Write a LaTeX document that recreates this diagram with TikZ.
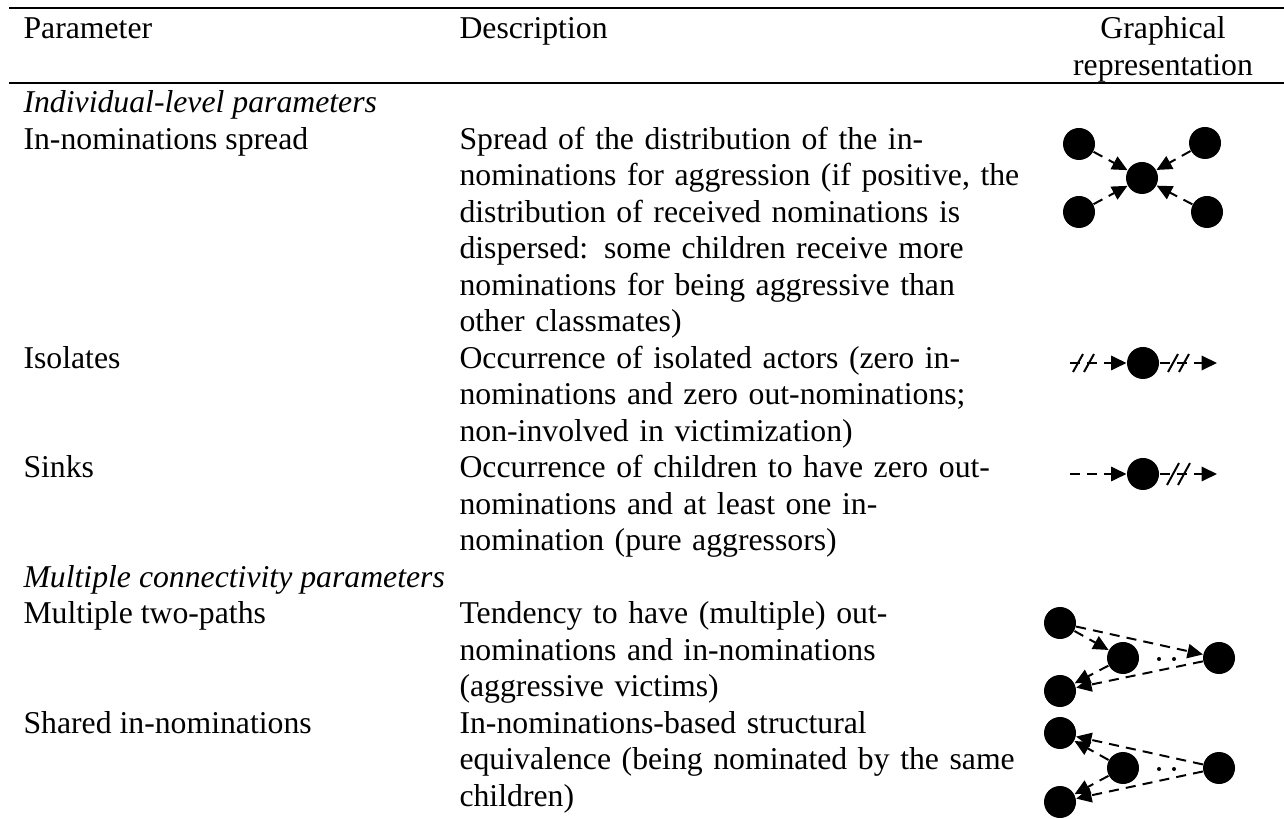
\documentclass[tikz,border=0pt]{standalone}
\usepackage{fontspec}
\setmainfont{Liberation Serif}
\usetikzlibrary{arrows.meta}

\begin{document}
\begin{tikzpicture}[x=0.3781pt,y=-0.3781pt,
    txt/.style={anchor=base west,inner sep=0pt,font=\fontsize{12}{13.8}\selectfont},
    desc/.style={txt,text width=300pt,align=left},
    actor/.style={circle,fill=black,inner sep=0pt,minimum size=12.1pt},
    nom/.style={line width=0.75pt,dash pattern=on 3.8pt off 2.7pt,-{Triangle[length=5.8pt,width=5.4pt]}},
    slash/.style={line width=0.75pt}]
    \useasboundingbox (0,0) rectangle (1284,819);

    % rules
    \draw[line width=0.75pt] (9,8.5) -- (1284,8.5);
    \draw[line width=0.75pt] (9,83) -- (1284,83);

    % header
    \node[txt] (hpar) at (23,39) {Parameter};
    \node[txt] (hdesc) at (459,39) {Description};
    \node[txt,anchor=base,align=center] (hgraph) at (1163,75.5) {Graphical\\representation};

    % rows
    \node[txt,font=\fontsize{12}{13.8}\selectfont\itshape] (sec1) at (23,113) {Individual-level parameters};
    \node[txt] (p1) at (23,149.5) {In-nominations spread};
    \node[desc] (d1) at (459,149.5) {Spread of the distribution of the in-\\nominations for aggression (if positive, the\\distribution of received nominations is\\dispersed: some children receive more\\nominations for being aggressive than\\other classmates)};
    \node[txt] (p2) at (23,368.5) {Isolates};
    \node[desc] (d2) at (459,368.5) {Occurrence of isolated actors (zero in-\\nominations and zero out-nominations;\\non-involved in victimization)};
    \node[txt] (p3) at (23,478) {Sinks};
    \node[desc] (d3) at (459,478) {Occurrence of children to have zero out-\\nominations and at least one in-\\nomination (pure aggressors)};
    \node[txt,font=\fontsize{12}{13.8}\selectfont\itshape] (sec2) at (23,587.5) {Multiple connectivity parameters};
    \node[txt] (p4) at (23,624) {Multiple two-paths};
    \node[desc] (d4) at (459,624) {Tendency to have (multiple) out-\\nominations and in-nominations\\(aggressive victims)};
    \node[txt] (p5) at (23,733.5) {Shared in-nominations};
    \node[desc] (d5) at (459,733.5) {In-nominations-based structural\\equivalence (being nominated by the same\\children)};

    % in-nominations spread
    \node[actor] (sc) at (1142,178) {};
    \node[actor] (stl) at (1079,144) {};
    \node[actor] (str) at (1205,143) {};
    \node[actor] (sbl) at (1079,212) {};
    \node[actor] (sbr) at (1207,212) {};
    \foreach \s in {stl,str,sbl,sbr}
        \draw[nom] (\s) -- (sc);

    % isolates
    \node[actor] (iso) at (1143,363) {};
    \coordinate (isoin) at (1070,363);
    \coordinate (isoout) at (1217,363);
    \draw[nom] (isoin) -- (iso);
    \draw[nom] (iso) -- (isoout);
    \foreach \x in {1078,1089,1173,1184}
        \draw[slash] (\x-5,372) -- (\x+5,354);

    % sinks
    \node[actor] (snk) at (1143,474) {};
    \coordinate (snkin) at (1070,474);
    \coordinate (snkout) at (1217,474);
    \draw[nom] (snkin) -- (snk);
    \draw[nom] (snk) -- (snkout);
    \foreach \x in {1173,1184}
        \draw[slash] (\x-6,485) -- (\x+6,463);

    % two-paths
    \node[actor] (ta) at (1060,623) {};
    \node[actor] (tb) at (1123,658) {};
    \node[actor] (tc) at (1219,658) {};
    \node[actor] (td) at (1060,691) {};
    \draw[nom] (ta) -- (tb);
    \draw[nom] (ta) -- (tc);
    \draw[nom] (tb) -- (td);
    \draw[nom] (tc) -- (td);
    \fill (1159,659) circle (2) (1174,659) circle (2);

    % shared in-nominations
    \node[actor] (ua) at (1060,733) {};
    \node[actor] (ub) at (1123,768) {};
    \node[actor] (uc) at (1219,768) {};
    \node[actor] (ud) at (1060,802) {};
    \draw[nom] (ub) -- (ua);
    \draw[nom] (uc) -- (ua);
    \draw[nom] (ub) -- (ud);
    \draw[nom] (uc) -- (ud);
    \fill (1159,769) circle (2) (1174,769) circle (2);

\end{tikzpicture}
\end{document}
